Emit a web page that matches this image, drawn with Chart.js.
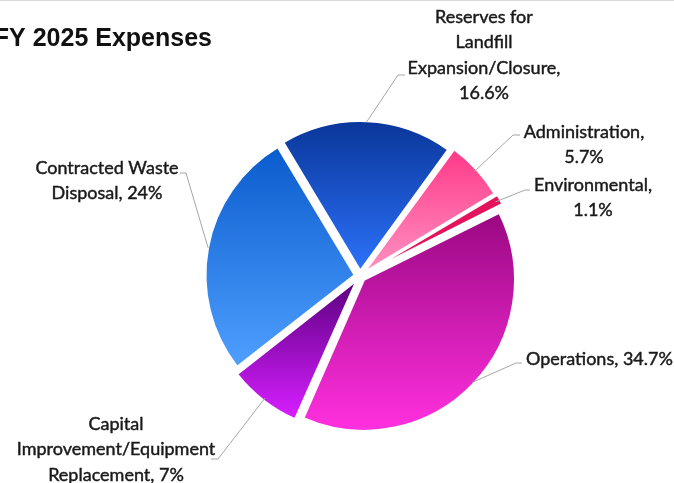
<!DOCTYPE html>
<html>
<head>
<meta charset="utf-8">
<title>FY 2025 Expenses</title>
<script src="https://cdn.jsdelivr.net/npm/chart.js@4.4.1/dist/chart.umd.min.js"></script>
<style>
  html, body { margin: 0; padding: 0; background: #fff; }
  canvas { display: block; }
</style>
</head>
<body>
<canvas id="expenseChart" width="674" height="483"></canvas>
<script>
const categories = [
  'Reserves for Landfill Expansion/Closure',
  'Administration',
  'Environmental',
  'Operations',
  'Capital Improvement/Equipment Replacement',
  'Contracted Waste Disposal'
];
const shares = [16.6, 5.7, 1.1, 34.7, 7, 24];

// label lines, {v} is replaced by the share
const labelText = [
  ['Reserves for', 'Landfill', 'Expansion/Closure,', '{v}'],
  ['Administration,', '{v}'],
  ['Environmental,', '{v}'],
  ['Operations, {v}'],
  ['Capital', 'Improvement/Equipment', 'Replacement, {v}'],
  ['Contracted Waste', 'Disposal, {v}']
];

const topColors = ['#0a369a', '#ff3a8a', '#e3135c', '#9a0882', '#5a007e', '#0a5ccd'];
const bottomColors = ['#2c72fa', '#ff92c2', '#e3135c', '#ff30de', '#d61eff', '#4f9fff'];

const ROTATION = -31;
const RADIUS = 149;
const OFFSET = 22;
const LINE_H = 25.5;

// where each label sits and where its leader line bends
const labelSpots = [
  { x: 484, y: 17,  align: 'center', elbow: [398, 75],  end: [405, 75] },
  { x: 584, y: 132, align: 'center', elbow: [513, 135], end: [520, 135] },
  { x: 593, y: 185, align: 'center', elbow: [525, 190], end: [530, 190] },
  { x: 526, y: 359, align: 'left',   elbow: [516, 363], end: [522, 363] },
  { x: 116, y: 424, align: 'center', elbow: [218, 459], end: [211, 459] },
  { x: 107, y: 168, align: 'center', elbow: [186, 173], end: [180, 173] }
];

function sliceGradient(context) {
  const chart = context.chart;
  const i = context.dataIndex;
  const area = chart.chartArea;
  if (!area) return topColors[i];
  const total = shares.reduce((a, b) => a + b, 0);
  const before = shares.slice(0, i).reduce((a, b) => a + b, 0);
  const start = (ROTATION - 90) * Math.PI / 180 + 2 * Math.PI * before / total;
  const end = start + 2 * Math.PI * shares[i] / total;
  const cy = (area.top + area.bottom) / 2;
  let minY = cy, maxY = cy;
  for (let k = 0; k <= 60; k++) {
    const y = cy + RADIUS * Math.sin(start + (end - start) * k / 60);
    minY = Math.min(minY, y);
    maxY = Math.max(maxY, y);
  }
  if (maxY - minY < 1) maxY = minY + 1;
  const g = chart.ctx.createLinearGradient(0, minY, 0, maxY);
  g.addColorStop(0, topColors[i]);
  g.addColorStop(1, bottomColors[i]);
  return g;
}

const leaderLabels = {
  id: 'leaderLabels',
  afterDatasetsDraw(chart) {
    const ctx = chart.ctx;
    const arcs = chart.getDatasetMeta(0).data;
    ctx.save();

    // thin rule along the top edge
    ctx.strokeStyle = '#d9d9d9';
    ctx.lineWidth = 1;
    ctx.beginPath();
    ctx.moveTo(0, 0.5);
    ctx.lineTo(chart.width, 0.5);
    ctx.stroke();

    arcs.forEach((arc, i) => {
      const spot = labelSpots[i];
      const mid = (arc.startAngle + arc.endAngle) / 2;
      const r = arc.outerRadius + OFFSET / 4;
      const sx = arc.x + Math.cos(mid) * r;
      const sy = arc.y + Math.sin(mid) * r;

      ctx.strokeStyle = '#a6a6a6';
      ctx.lineWidth = 1;
      ctx.beginPath();
      ctx.moveTo(sx, sy);
      ctx.lineTo(spot.elbow[0], spot.elbow[1]);
      ctx.lineTo(spot.end[0], spot.end[1]);
      ctx.stroke();

      ctx.fillStyle = '#1a1a1a';
      ctx.strokeStyle = '#1a1a1a';
      ctx.lineWidth = 0.45;
      ctx.font = '18px Lato';
      ctx.textAlign = spot.align;
      ctx.textBaseline = 'middle';
      labelText[i].forEach((line, k) => {
        const t = line.replace('{v}', shares[i] + '%');
        ctx.fillText(t, spot.x, spot.y + k * LINE_H);
        ctx.strokeText(t, spot.x, spot.y + k * LINE_H);
      });
    });

    // title, partly running off the left edge
    ctx.fillStyle = '#111';
    ctx.font = 'bold 25px "Liberation Sans"';
    ctx.textAlign = 'right';
    ctx.textBaseline = 'alphabetic';
    ctx.fillText('FY 2025 Expenses', 212, 46);

    ctx.restore();
  }
};

new Chart(document.getElementById('expenseChart'), {
  type: 'pie',
  data: {
    labels: categories,
    datasets: [{
      data: shares,
      backgroundColor: sliceGradient,
      borderColor: '#ffffff',
      borderWidth: 2,
      offset: OFFSET,
      radius: RADIUS
    }]
  },
  options: {
    responsive: false,
    animation: false,
    rotation: ROTATION,
    layout: { padding: { left: 200, right: 154, top: 123, bottom: 54 } },
    plugins: {
      legend: { display: false },
      tooltip: { enabled: false }
    }
  },
  plugins: [leaderLabels]
});
</script>
</body>
</html>
